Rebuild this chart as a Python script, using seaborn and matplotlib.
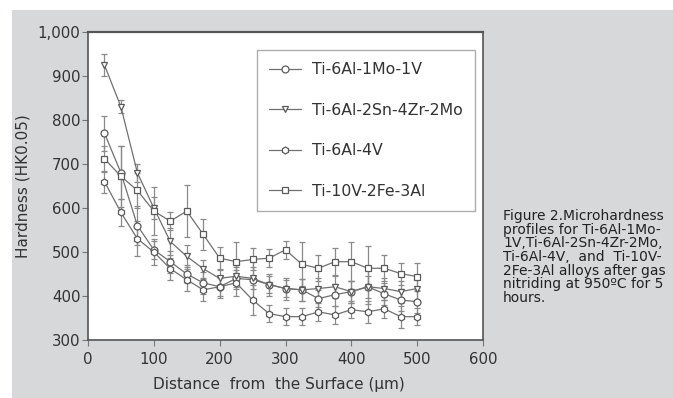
import numpy as np
import pandas as pd
import matplotlib
matplotlib.use("Agg")
import matplotlib.pyplot as plt
from matplotlib.lines import Line2D
from matplotlib.patches import Rectangle
from matplotlib.ticker import FuncFormatter
import seaborn as sns

# ---------------- data ----------------
distance = [25, 50, 75, 100, 125, 150, 175, 200, 225, 250,
            275, 300, 325, 350, 375, 400, 425, 450, 475, 500]

series_names = ["Ti-6Al-1Mo-1V", "Ti-6Al-2Sn-4Zr-2Mo", "Ti-6Al-4V", "Ti-10V-2Fe-3Al"]

hk_6_1_1 = [770, 680, 560, 505, 478, 450, 430, 421, 440, 437,
            426, 417, 414, 394, 403, 410, 421, 405, 391, 387]
err_6_1_1 = [40, 60, 45, 20, 25, 20, 25, 20, 25, 45,
             25, 25, 25, 20, 25, 25, 40, 25, 25, 25]

hk_6242 = [925, 830, 680, 600, 524, 490, 462, 440, 445, 440,
           426, 417, 414, 417, 421, 410, 421, 417, 410, 417]
err_6242 = [25, 15, 20, 25, 30, 25, 20, 20, 25, 25,
            20, 20, 25, 25, 25, 25, 25, 25, 25, 25]

hk_64 = [660, 590, 530, 500, 462, 437, 414, 421, 430, 391,
         360, 353, 353, 364, 357, 369, 364, 371, 353, 353]
err_64 = [25, 30, 40, 30, 25, 25, 25, 25, 30, 35,
          20, 20, 20, 20, 20, 20, 25, 20, 25, 20]

hk_10_2_3 = [712, 672, 640, 593, 570, 593, 540, 486, 478, 483,
             486, 505, 472, 463, 478, 478, 463, 463, 451, 444]
err_10_2_3 = [30, 70, 40, 55, 20, 60, 35, 25, 45, 25,
              20, 20, 50, 30, 30, 45, 50, 30, 25, 30]

values = [hk_6_1_1, hk_6242, hk_64, hk_10_2_3]
errors = [err_6_1_1, err_6242, err_64, err_10_2_3]
markers = ["o", "v", "h", "s"]

x_ticks = [0, 100, 200, 300, 400, 500, 600]
y_ticks = [300, 400, 500, 600, 700, 800, 900, 1000]

caption = ("Figure 2.Microhardness\nprofiles for Ti-6Al-1Mo-\n1V,Ti-6Al-2Sn-4Zr-2Mo,\n"
           "Ti-6Al-4V,  and  Ti-10V-\n2Fe-3Al alloys after gas\n"
           "nitriding at 950ºC for 5\nhours.")

# ---------------- frame ----------------
rows = []
for name, vals in zip(series_names, values):
    for d, v in zip(distance, vals):
        rows.append({"distance": d, "hardness": v, "alloy": name})
df = pd.DataFrame(rows)

sns.set_style("white")
plt.rcParams["font.family"] = ["DejaVu Sans"]

W, H = 673, 398
fig = plt.figure(figsize=(W / 100, H / 100), dpi=100)
fig.patch.set_facecolor("white")
bg = Rectangle((12 / W, 0), 1 - 12 / W, (H - 10) / H,
               transform=fig.transFigure, facecolor="#d6d8da",
               edgecolor="none", zorder=-10)
fig.patches.append(bg)

ax = fig.add_axes([88 / W, (H - 340) / H, (483 - 88) / W, (340 - 32) / H])
ax.set_zorder(1)
ax.set_facecolor("white")

gray = "#707070"
for name, vals, errs in zip(series_names, values, errors):
    ax.errorbar(distance, vals, yerr=errs, fmt="none", ecolor="#8a8a8a",
                elinewidth=0.9, capsize=2.5, capthick=0.9, zorder=2)

sns.lineplot(data=df, x="distance", y="hardness", hue="alloy", style="alloy",
             hue_order=series_names, style_order=series_names,
             palette=[gray] * 4, markers=markers, dashes=False,
             markersize=5, markerfacecolor="white", markeredgecolor="#5a5a5a",
             markeredgewidth=0.9, linewidth=0.9, legend=False, ax=ax, zorder=3)

ax.set_xlim(0, 600)
ax.set_ylim(300, 1000)
ax.set_xticks(x_ticks)
ax.set_yticks(y_ticks)
ax.yaxis.set_major_formatter(FuncFormatter(lambda v, p: f"{v:,.0f}"))
ax.tick_params(axis="both", which="major", direction="out", length=4, width=0.8,
               color="#777777", labelsize=10.8, labelcolor="#333333",
               bottom=True, left=True)
ax.tick_params(axis="x", pad=5)
ax.tick_params(axis="y", pad=1.5)
for side, sp in ax.spines.items():
    sp.set_visible(True)
    sp.set_color("#555555")
    sp.set_linewidth(1.2)
ax.spines["top"].set_linewidth(1.6)

ax.set_xlabel("Distance  from  the Surface (µm)", fontsize=11, color="#333333", labelpad=6)
ax.xaxis.set_label_coords(0.484, -0.12)
ax.set_ylabel("Hardness (HK0.05)", fontsize=11, color="#333333", labelpad=5)

handles = [Line2D([0], [0], color=gray, linewidth=0.9, marker=m, markersize=5,
                  markerfacecolor="white", markeredgecolor="#5a5a5a", markeredgewidth=0.9)
           for m in markers]
leg = ax.legend(handles, series_names, loc="upper left", bbox_to_anchor=(0.428, 0.9416),
                frameon=True, fancybox=False, fontsize=11.3, labelspacing=1.62,
                handlelength=2.05, handletextpad=0.7, borderpad=0.78, borderaxespad=0)
leg.get_frame().set_edgecolor("#999999")
leg.get_frame().set_linewidth(1.0)
for t in leg.get_texts():
    t.set_color("#333333")

fig.text(503 / W, 1 - 209 / H, caption, ha="left", va="top", fontsize=10,
         family="DejaVu Sans", color="#222222", linespacing=0.97)

fig.savefig("out.png", dpi=100, facecolor=fig.get_facecolor())
